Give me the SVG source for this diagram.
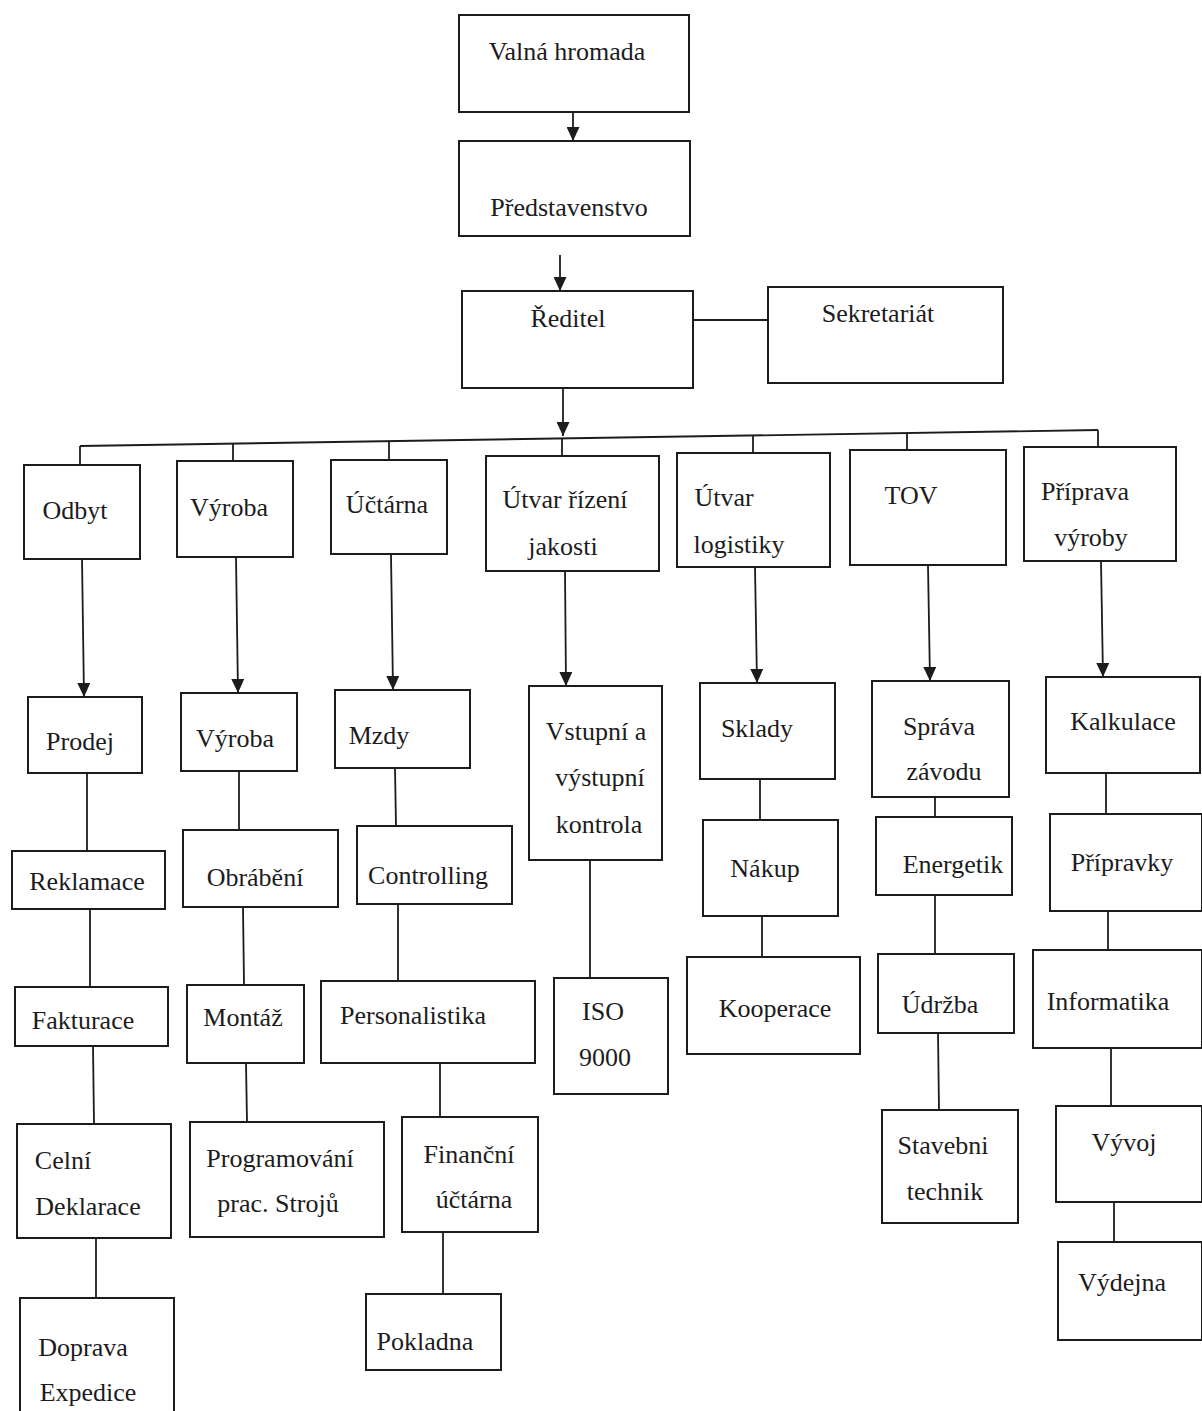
<svg xmlns="http://www.w3.org/2000/svg" width="1202" height="1411" viewBox="0 0 1202 1411">
<style>
.box{fill:#fff;stroke:#1c1c1c;stroke-width:2}
.t{font-family:"Liberation Serif","Times New Roman",serif;font-size:26px;fill:#1c1c1c;text-anchor:middle}
.c{stroke:#1c1c1c;stroke-width:1.8;fill:none}
.a{marker-end:url(#arr)}
</style>
<defs>
<marker id="arr" markerUnits="userSpaceOnUse" markerWidth="14" markerHeight="13" refX="14" refY="6.5" orient="auto">
<path d="M0,0 L14,6.5 L0,13 z" fill="#1c1c1c"/>
</marker>
</defs>
<rect width="1202" height="1411" fill="#fff"/>
<g id="connectors">
<line class="c a" x1="573" y1="112" x2="573" y2="141"/>
<line class="c a" x1="560" y1="255" x2="560" y2="291"/>
<line class="c" x1="693" y1="320" x2="768" y2="320"/>
<line class="c a" x1="563" y1="388" x2="563" y2="436"/>
<line class="c" x1="80" y1="446" x2="1098" y2="430"/>
<line class="c" x1="80" y1="446" x2="80" y2="465"/>
<line class="c" x1="233" y1="444" x2="233" y2="461"/>
<line class="c" x1="389" y1="441" x2="389" y2="460"/>
<line class="c" x1="562" y1="439" x2="562" y2="456"/>
<line class="c" x1="753" y1="436" x2="753" y2="453"/>
<line class="c" x1="907" y1="433" x2="907" y2="450"/>
<line class="c" x1="1098" y1="430" x2="1098" y2="447"/>
<line class="c a" x1="82" y1="559" x2="84" y2="697"/>
<line class="c a" x1="236" y1="557" x2="238" y2="693"/>
<line class="c a" x1="391" y1="554" x2="393" y2="690"/>
<line class="c a" x1="565" y1="571" x2="566" y2="686"/>
<line class="c a" x1="755" y1="567" x2="757" y2="683"/>
<line class="c a" x1="928" y1="565" x2="930" y2="681"/>
<line class="c a" x1="1101" y1="561" x2="1103" y2="677"/>
<line class="c" x1="87" y1="773" x2="87" y2="851"/>
<line class="c" x1="239" y1="771" x2="239" y2="830"/>
<line class="c" x1="395" y1="768" x2="396" y2="826"/>
<line class="c" x1="590" y1="860" x2="590" y2="978"/>
<line class="c" x1="760" y1="779" x2="760" y2="820"/>
<line class="c" x1="935" y1="797" x2="935" y2="817"/>
<line class="c" x1="1106" y1="773" x2="1106" y2="814"/>
<line class="c" x1="90" y1="909" x2="90" y2="987"/>
<line class="c" x1="243" y1="907" x2="244" y2="985"/>
<line class="c" x1="398" y1="904" x2="398" y2="981"/>
<line class="c" x1="762" y1="916" x2="762" y2="957"/>
<line class="c" x1="935" y1="895" x2="935" y2="954"/>
<line class="c" x1="1108" y1="911" x2="1108" y2="950"/>
<line class="c" x1="93" y1="1046" x2="94" y2="1124"/>
<line class="c" x1="246" y1="1063" x2="247" y2="1122"/>
<line class="c" x1="440" y1="1063" x2="440" y2="1117"/>
<line class="c" x1="938" y1="1033" x2="939" y2="1110"/>
<line class="c" x1="1111" y1="1048" x2="1111" y2="1106"/>
<line class="c" x1="96" y1="1238" x2="96" y2="1298"/>
<line class="c" x1="443" y1="1232" x2="443" y2="1294"/>
<line class="c" x1="1114" y1="1202" x2="1114" y2="1242"/>
</g>
<g id="n-valna"><rect class="box" x="459" y="15" width="230" height="97"/><text class="t" x="567" y="60">Valná hromada</text></g>
<g id="n-predstavenstvo"><rect class="box" x="459" y="141" width="231" height="95"/><text class="t" x="569" y="216">Představenstvo</text></g>
<g id="n-reditel"><rect class="box" x="462" y="291" width="231" height="97"/><text class="t" x="568" y="327">Ředitel</text></g>
<g id="n-sekretariat"><rect class="box" x="768" y="287" width="235" height="96"/><text class="t" x="878" y="322">Sekretariát</text></g>

<g id="n-odbyt"><rect class="box" x="24" y="465" width="116" height="94"/><text class="t" x="75" y="519">Odbyt</text></g>
<g id="n-vyroba1"><rect class="box" x="177" y="461" width="116" height="96"/><text class="t" x="229" y="516">Výroba</text></g>
<g id="n-uctarna"><rect class="box" x="331" y="460" width="116" height="94"/><text class="t" x="387" y="513">Účtárna</text></g>
<g id="n-jakost"><rect class="box" x="486" y="456" width="173" height="115"/><text class="t" x="565" y="508">Útvar řízení</text><text class="t" x="563" y="555">jakosti</text></g>
<g id="n-logistika"><rect class="box" x="677" y="453" width="153" height="114"/><text class="t" x="724" y="506">Útvar</text><text class="t" x="739" y="553">logistiky</text></g>
<g id="n-tov"><rect class="box" x="850" y="450" width="156" height="115"/><text class="t" x="911" y="504">TOV</text></g>
<g id="n-priprava"><rect class="box" x="1024" y="447" width="152" height="114"/><text class="t" x="1085" y="500">Příprava</text><text class="t" x="1091" y="546">výroby</text></g>

<g id="n-prodej"><rect class="box" x="28" y="697" width="114" height="76"/><text class="t" x="80" y="750">Prodej</text></g>
<g id="n-vyroba2"><rect class="box" x="181" y="693" width="116" height="78"/><text class="t" x="235" y="747">Výroba</text></g>
<g id="n-mzdy"><rect class="box" x="335" y="690" width="135" height="78"/><text class="t" x="379" y="744">Mzdy</text></g>
<g id="n-kontrola"><rect class="box" x="529" y="686" width="133" height="174"/><text class="t" x="596" y="740">Vstupní a</text><text class="t" x="600" y="786">výstupní</text><text class="t" x="599" y="833">kontrola</text></g>
<g id="n-sklady"><rect class="box" x="700" y="683" width="135" height="96"/><text class="t" x="757" y="737">Sklady</text></g>
<g id="n-sprava"><rect class="box" x="872" y="681" width="137" height="116"/><text class="t" x="939" y="735">Správa</text><text class="t" x="944" y="780">závodu</text></g>
<g id="n-kalkulace"><rect class="box" x="1046" y="677" width="154" height="96"/><text class="t" x="1123" y="730">Kalkulace</text></g>

<g id="n-reklamace"><rect class="box" x="12" y="851" width="153" height="58"/><text class="t" x="87" y="890">Reklamace</text></g>
<g id="n-obrabeni"><rect class="box" x="183" y="830" width="155" height="77"/><text class="t" x="255" y="886">Obrábění</text></g>
<g id="n-controlling"><rect class="box" x="357" y="826" width="155" height="78"/><text class="t" x="428" y="884">Controlling</text></g>
<g id="n-iso"><rect class="box" x="554" y="978" width="114" height="116"/><text class="t" x="603" y="1020">ISO</text><text class="t" x="605" y="1066">9000</text></g>
<g id="n-nakup"><rect class="box" x="703" y="820" width="135" height="96"/><text class="t" x="765" y="877">Nákup</text></g>
<g id="n-energetik"><rect class="box" x="876" y="817" width="136" height="78"/><text class="t" x="953" y="873">Energetik</text></g>
<g id="n-pripravky"><rect class="box" x="1050" y="814" width="152" height="97"/><text class="t" x="1122" y="871">Přípravky</text></g>

<g id="n-fakturace"><rect class="box" x="15" y="987" width="153" height="59"/><text class="t" x="83" y="1029">Fakturace</text></g>
<g id="n-montaz"><rect class="box" x="187" y="985" width="117" height="78"/><text class="t" x="243" y="1026">Montáž</text></g>
<g id="n-personalistika"><rect class="box" x="321" y="981" width="214" height="82"/><text class="t" x="413" y="1024">Personalistika</text></g>
<g id="n-kooperace"><rect class="box" x="687" y="957" width="173" height="97"/><text class="t" x="775" y="1017">Kooperace</text></g>
<g id="n-udrzba"><rect class="box" x="878" y="954" width="136" height="79"/><text class="t" x="940" y="1013">Údržba</text></g>
<g id="n-informatika"><rect class="box" x="1033" y="950" width="169" height="98"/><text class="t" x="1108" y="1010">Informatika</text></g>

<g id="n-celni"><rect class="box" x="17" y="1124" width="154" height="114"/><text class="t" x="63" y="1169">Celní</text><text class="t" x="88" y="1215">Deklarace</text></g>
<g id="n-programovani"><rect class="box" x="190" y="1122" width="194" height="115"/><text class="t" x="280" y="1167">Programování</text><text class="t" x="278" y="1212">prac. Strojů</text></g>
<g id="n-financni"><rect class="box" x="402" y="1117" width="136" height="115"/><text class="t" x="469" y="1163">Finanční</text><text class="t" x="474" y="1208">účtárna</text></g>
<g id="n-stavebni"><rect class="box" x="882" y="1110" width="136" height="113"/><text class="t" x="943" y="1154">Stavebni</text><text class="t" x="945" y="1200">technik</text></g>
<g id="n-vyvoj"><rect class="box" x="1056" y="1106" width="146" height="96"/><text class="t" x="1124" y="1151">Vývoj</text></g>

<g id="n-doprava"><rect class="box" x="20" y="1298" width="154" height="120"/><text class="t" x="83" y="1356">Doprava</text><text class="t" x="88" y="1401">Expedice</text></g>
<g id="n-pokladna"><rect class="box" x="366" y="1294" width="135" height="76"/><text class="t" x="425" y="1350">Pokladna</text></g>
<g id="n-vydejna"><rect class="box" x="1058" y="1242" width="144" height="98"/><text class="t" x="1122" y="1291">Výdejna</text></g>
</svg>
